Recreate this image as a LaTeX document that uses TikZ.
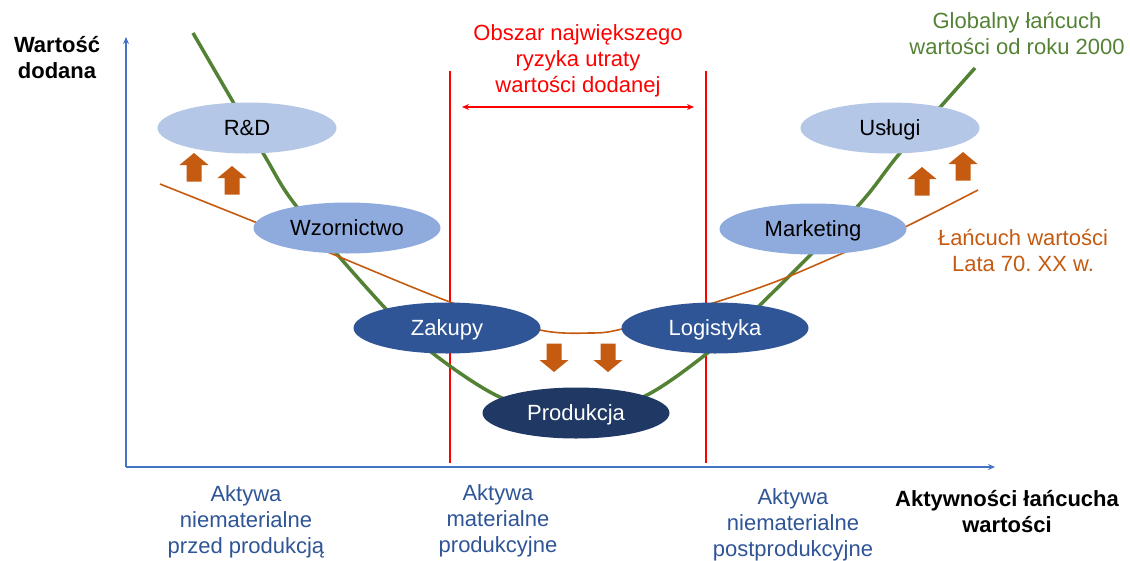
\documentclass[tikz,border=0pt]{standalone}
\usepackage{fontspec}
\setmainfont{Liberation Sans}
\usetikzlibrary{shapes.geometric,arrows.meta}
\definecolor{axisblue}{HTML}{4472C4}
\definecolor{riskred}{HTML}{FF0000}
\definecolor{gvcgreen}{HTML}{548235}
\definecolor{oldorange}{HTML}{C55A11}
\definecolor{paleblue}{HTML}{B4C7E7}
\definecolor{midblue}{HTML}{8FAADC}
\definecolor{darkblue}{HTML}{2F5597}
\definecolor{navyblue}{HTML}{203864}
\frenchspacing

\begin{document}
\begin{tikzpicture}[x=1pt,y=-1pt,
    every node/.style={font=\fontsize{22}{26}\selectfont, inner sep=0pt, align=center},
    stage/.style={ellipse, minimum width=187pt, minimum height=51pt, text height=20.8pt, text depth=5pt},
    axisline/.style={axisblue, line width=1.8pt, -{Stealth[length=7pt,width=6pt]}},
    riskline/.style={riskred, line width=1.8pt},
    pics/blockarrow/.style={code={
        \fill[oldorange] (0,-14) -- (14.5,-2) -- (7.5,-2) -- (7.5,14.5) -- (-7.5,14.5)
          -- (-7.5,-2) -- (-14.5,-2) -- cycle;}}]
  \useasboundingbox (0,0) rectangle (1130,560);

  % axes
  \coordinate (O) at (126,467);
  \coordinate (ytop) at (126,37);
  \coordinate (xend) at (995,467);
  \draw[axisline] (O) -- (ytop);
  \draw[axisline] (O) -- (xend);
  \node[font=\fontsize{22}{26}\selectfont\bfseries] (yaxlab) at (57,58) {Wartość\\dodana};
  \node[font=\fontsize{22}{26}\selectfont\bfseries] (xaxlab) at (1007,512) {Aktywności łańcucha\\wartości};

  % risk zone
  \coordinate (r1top) at (450,71);
  \coordinate (r1bot) at (450,463);
  \coordinate (r2top) at (706,71);
  \coordinate (r2bot) at (706,463);
  \coordinate (ra) at (462,107);
  \coordinate (rb) at (694,107);
  \draw[riskline] (r1top) -- (r1bot);
  \draw[riskline] (r2top) -- (r2bot);
  \draw[riskred, line width=1.5pt, {Stealth[length=7pt,width=6pt]}-{Stealth[length=7pt,width=6pt]}] (ra) -- (rb);
  \node[text=riskred] (riskl) at (578,61) {Obszar największego\\ryzyka utraty\\wartości dodanej};

  % value chain curves
  \draw[gvcgreen, line width=3.5pt] plot[smooth] coordinates {(193,33) (263,153) (297,207)
    (385,308) (435,355) (502,398) (575,414) (643,397) (705,355) (760,305) (857,207)
    (900,153) (975,68)};
  \draw[oldorange, line width=1.6pt] plot[smooth] coordinates {(160,184) (255,222) (330,253)
    (450,302) (540,330) (590,333) (622,329) (713,303) (780,280) (857,247) (905,227) (978,190)};
  \node[text=gvcgreen] (globl) at (1017,34) {Globalny łańcuch\\wartości od roku 2000};
  \node[text=oldorange] (oldl) at (1023,251) {Łańcuch wartości\\Lata 70. XX w.};

  % stages
  \node[stage, fill=paleblue, minimum width=179pt] (rd) at (247,128) {R\&D};
  \node[stage, fill=midblue] (wzor) at (347,228) {Wzornictwo};
  \node[stage, fill=darkblue, text=white] (zakupy) at (447,328) {Zakupy};
  \node[stage, fill=navyblue, text=white] (prod) at (576,413) {Produkcja};
  \node[stage, fill=darkblue, text=white] (logist) at (715,328) {Logistyka};
  \node[stage, fill=midblue] (mark) at (813,229) {Marketing};
  \node[stage, fill=paleblue, minimum width=179pt] (uslugi) at (890,128) {Usługi};

  % shifts
  \pic at (194,167) {blockarrow};
  \pic at (232,180) {blockarrow};
  \pic at (922,181) {blockarrow};
  \pic at (963,166) {blockarrow};
  \pic[rotate=180] at (554,358) {blockarrow};
  \pic[rotate=180] at (608,358) {blockarrow};

  % asset groups
  \node[text=darkblue] (labpre) at (246,522) {Aktywa\\niematerialne\\przed produkcją};
  \node[text=darkblue] (labmat) at (498,521) {Aktywa\\materialne\\produkcyjne};
  \node[text=darkblue] (labpost) at (793,525) {Aktywa\\niematerialne\\postprodukcyjne};
\end{tikzpicture}
\end{document}
